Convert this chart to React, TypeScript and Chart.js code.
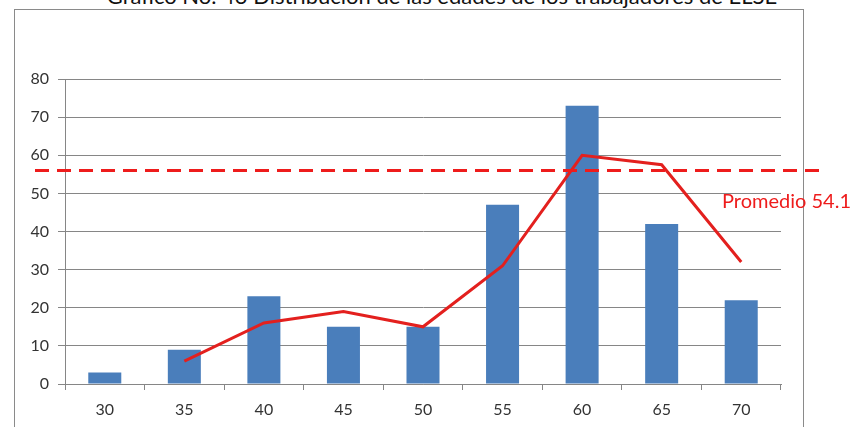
import React, { useEffect, useRef } from "react";
import { Chart, registerables } from "chart.js";

Chart.register(...registerables);

const categories = ["30", "35", "40", "45", "50", "55", "60", "65", "70"];
const barValues = [3, 9, 23, 15, 15, 47, 73, 42, 22];
const lineValues = [null, 6, 16, 19, 15, 31, 60, 57.5, 32];
const averageLineValue = 56;
const averageLabel = "Promedio 54.1";
const titleText = "Gráfico No.  43 Distribución de las edades de los trabajadores de ELSE";

const avgPlugin = {
  id: "avgLine",
  afterDatasetsDraw(chart: any) {
    const { ctx, chartArea, scales } = chart;
    const y = scales.y.getPixelForValue(averageLineValue);
    ctx.save();
    ctx.strokeStyle = "#ee1c1c";
    ctx.lineWidth = 3;
    ctx.setLineDash([14, 8]);
    ctx.beginPath();
    ctx.moveTo(chartArea.left - 30, y);
    ctx.lineTo(chartArea.right + 44, y);
    ctx.stroke();
    ctx.restore();
  },
};

export default function App() {
  const ref = useRef<HTMLCanvasElement>(null);
  useEffect(() => {
    const chart = new Chart(ref.current!, {
      type: "bar",
      data: {
        labels: categories,
        datasets: [
          {
            type: "line",
            data: lineValues as any,
            borderColor: "#e3201e",
            borderWidth: 3,
            pointRadius: 0,
            tension: 0,
            order: 0,
          } as any,
          {
            type: "bar",
            data: barValues,
            backgroundColor: "#4a7ebb",
            barPercentage: 0.415,
            categoryPercentage: 1,
            order: 1,
          },
        ],
      },
      options: {
        responsive: false,
        animation: false,
        layout: { padding: { left: 0, top: 79, right: 78, bottom: 0 } },
        plugins: { legend: { display: false }, tooltip: { enabled: false } },
        scales: {
          x: {
            afterFit: (s: any) => { s.height = 43; },
            grid: { drawOnChartArea: false, drawTicks: true, tickLength: 6, color: "#868686", offset: true },
            border: { color: "#868686" },
            ticks: { color: "#333", font: { family: "Lato", size: 16 }, padding: 10 },
          },
          y: {
            min: 0,
            max: 80,
            afterFit: (s: any) => { s.width = 65; },
            grid: { color: "#868686", tickLength: 7 },
            border: { color: "#868686" },
            ticks: { stepSize: 10, color: "#333", font: { family: "Lato", size: 16 }, padding: 9 },
          },
        },
      },
      plugins: [avgPlugin],
    });
    return () => chart.destroy();
  }, []);
  return (
    <div style={{ position: "fixed", left: 0, top: 0, width: 859, height: 427, overflow: "hidden", background: "#fff" }}>
      <div style={{ position: "absolute", left: 14, top: 9, width: 788, height: 440, border: "1px solid #8a8a8a" }} />
      <div style={{ position: "absolute", left: 0, top: -15, width: 884, textAlign: "center", fontFamily: "Lato", fontSize: 22, lineHeight: "22px", color: "#111", whiteSpace: "nowrap" }}>{titleText}</div>
      <canvas ref={ref} width={859} height={427} style={{ position: "absolute", left: 0, top: 0 }} />
      <div style={{ position: "absolute", left: 722, top: 188, fontFamily: "Lato", fontSize: 20, color: "#ee1c1c", whiteSpace: "nowrap" }}>{averageLabel}</div>
    </div>
  );
}
